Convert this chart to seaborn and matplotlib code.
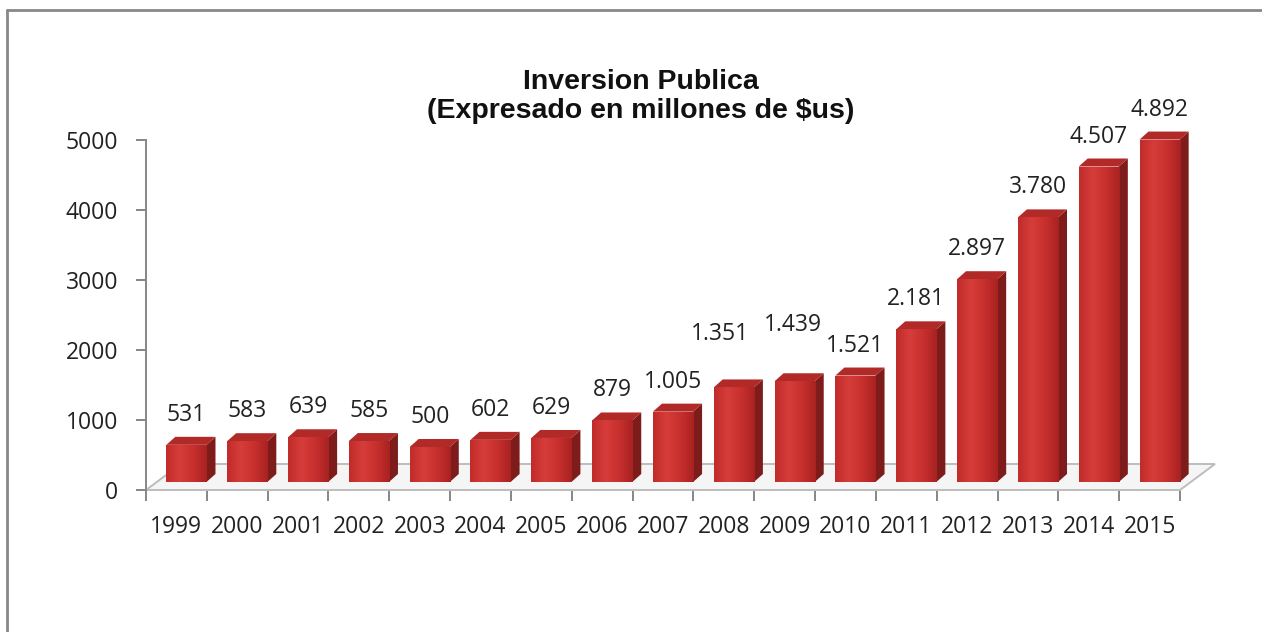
import numpy as np
import pandas as pd
import matplotlib
matplotlib.use("Agg")
import matplotlib.pyplot as plt
from matplotlib.patches import Polygon
from matplotlib.lines import Line2D
import seaborn as sns

# Public investment by year, millions of US dollars
years = ["1999", "2000", "2001", "2002", "2003", "2004", "2005", "2006", "2007",
         "2008", "2009", "2010", "2011", "2012", "2013", "2014", "2015"]
investment = [531, 583, 639, 585, 500, 602, 629, 879, 1005,
              1351, 1439, 1521, 2181, 2897, 3780, 4507, 4892]
y_ticks = [0, 1000, 2000, 3000, 4000, 5000]

title_lines = ["Inversion Publica", "(Expresado en millones de $us)"]

# label nudges in pixels for a couple of crowded labels
label_nudge = {"2008": (-14, 23), "2009": (-2, 26)}

sns.set_theme(style="white")
plt.rcParams["font.family"] = ["Open Sans", "DejaVu Sans"]

W, H = 1262, 632
fig = plt.figure(figsize=(W / 100, H / 100), dpi=100)
fig.patch.set_facecolor("white")

ax_l, ax_r, ax_b, ax_t = 146, 1180, 490, 140
ax = fig.add_axes([ax_l / W, 1 - ax_b / H, (ax_r - ax_l) / W, (ax_b - ax_t) / H])
ax.set_facecolor("none")

df = pd.DataFrame({"year": years, "value": investment})
front_col = "#C8302E"
sns.barplot(data=df, x="year", y="value", color=front_col, width=0.66,
            saturation=1, ax=ax, zorder=3)

n = len(years)
ax.set_xlim(-0.5, n - 0.5)
ax.set_ylim(0, 5000)

# pixel -> data conversions
px_x = n / (ax_r - ax_l)
px_y = 5000 / (ax_b - ax_t)

# floor (3D base plane)
fdx, fdy = 35 * px_x, 26 * px_y
floor = Polygon([(-0.5, 0), (n - 0.5, 0), (n - 0.5 + fdx, fdy), (-0.5 + fdx, fdy)],
                closed=True, facecolor="#F5F5F5", edgecolor="#BDBDBD", lw=1.4,
                zorder=1, clip_on=False)
ax.add_patch(floor)

# 3D extrusion of each bar
shift_x, shift_y = 10 * px_x, 8 * px_y
ddx, ddy = 9 * px_x, 8 * px_y
shade = matplotlib.colors.LinearSegmentedColormap.from_list(
    "bar", ["#C02C2A", "#D63D3A", "#C8302E", "#A82222"])
grad = np.linspace(0, 1, 64).reshape(1, -1)
for p in ax.patches[:]:
    if p is floor:
        continue
    x0 = p.get_x() + shift_x
    p.set_x(x0)
    p.set_y(shift_y)
    p.set_clip_on(False)
    p.set_edgecolor("none")
    x1 = x0 + p.get_width()
    y0 = shift_y
    y1 = shift_y + p.get_height()
    side = Polygon([(x1, y0), (x1 + ddx, y0 + ddy), (x1 + ddx, y1 + ddy), (x1, y1)],
                   closed=True, facecolor="#7E1C1C", edgecolor="none",
                   zorder=3, clip_on=False)
    top = Polygon([(x0, y1), (x0 + ddx, y1 + ddy), (x1 + ddx, y1 + ddy), (x1, y1)],
                  closed=True, facecolor="#B22A28", edgecolor="none",
                  zorder=3, clip_on=False)
    ax.add_patch(side)
    ax.add_patch(top)
    # soft horizontal shading on the front face
    im = ax.imshow(grad, extent=[x0, x1, y0, y1], aspect="auto", cmap=shade,
                   zorder=3.5, interpolation="bicubic")
    im.set_clip_path(p)
    im.set_clip_on(True)

ax.set_xlim(-0.5, n - 0.5)
ax.set_ylim(0, 5000)

# value labels
for i, (yr, v) in enumerate(zip(years, investment)):
    txt = f"{v:,}".replace(",", ".")
    nx, ny = label_nudge.get(yr, (0, 0))
    ax.annotate(txt, (i, v), xytext=((10 + nx) * 0.72, (26 + ny) * 0.72),
                textcoords="offset points", ha="center", va="bottom",
                fontsize=16.5, color="#222222", annotation_clip=False, zorder=5)

# axes styling
for s in ["top", "right", "bottom"]:
    ax.spines[s].set_visible(False)
ax.spines["left"].set_color("#868686")
ax.spines["left"].set_linewidth(1.4)
ax.spines["left"].set_zorder(4)

ax.set_yticks(y_ticks)
ax.set_yticklabels([str(t) for t in y_ticks])
ax.tick_params(axis="y", direction="out", length=7, width=1.4, color="#868686",
               labelsize=16.5, labelcolor="#222222", pad=13, left=True)
ax.set_xticks(range(n))
ax.set_xticklabels(years)
ax.set_xticks(np.arange(-0.5, n, 1), minor=True)
ax.tick_params(axis="x", which="major", length=0, labelsize=16.5,
               labelcolor="#222222", pad=18)
ax.tick_params(axis="x", which="minor", direction="out", length=8, width=1.4,
               color="#868686", bottom=True)
ax.set_xlabel("")
ax.set_ylabel("")
ax.grid(False)

# title
for txt, ypx in zip(title_lines, [82, 111]):
    fig.text(641 / W, 1 - ypx / H, txt, ha="center", va="center",
             fontsize=20.5, fontweight="bold",
             family=["Liberation Sans", "DejaVu Sans"], color="#111111")

# outer frame (left and top edges)
fig.add_artist(Line2D([7 / W, 7 / W], [0, 1 - 10 / H], transform=fig.transFigure,
                      color="#888888", lw=2))
fig.add_artist(Line2D([7 / W, 1], [1 - 10 / H, 1 - 10 / H], transform=fig.transFigure,
                      color="#888888", lw=2))

fig.savefig("out.png", dpi=100, facecolor="white")
